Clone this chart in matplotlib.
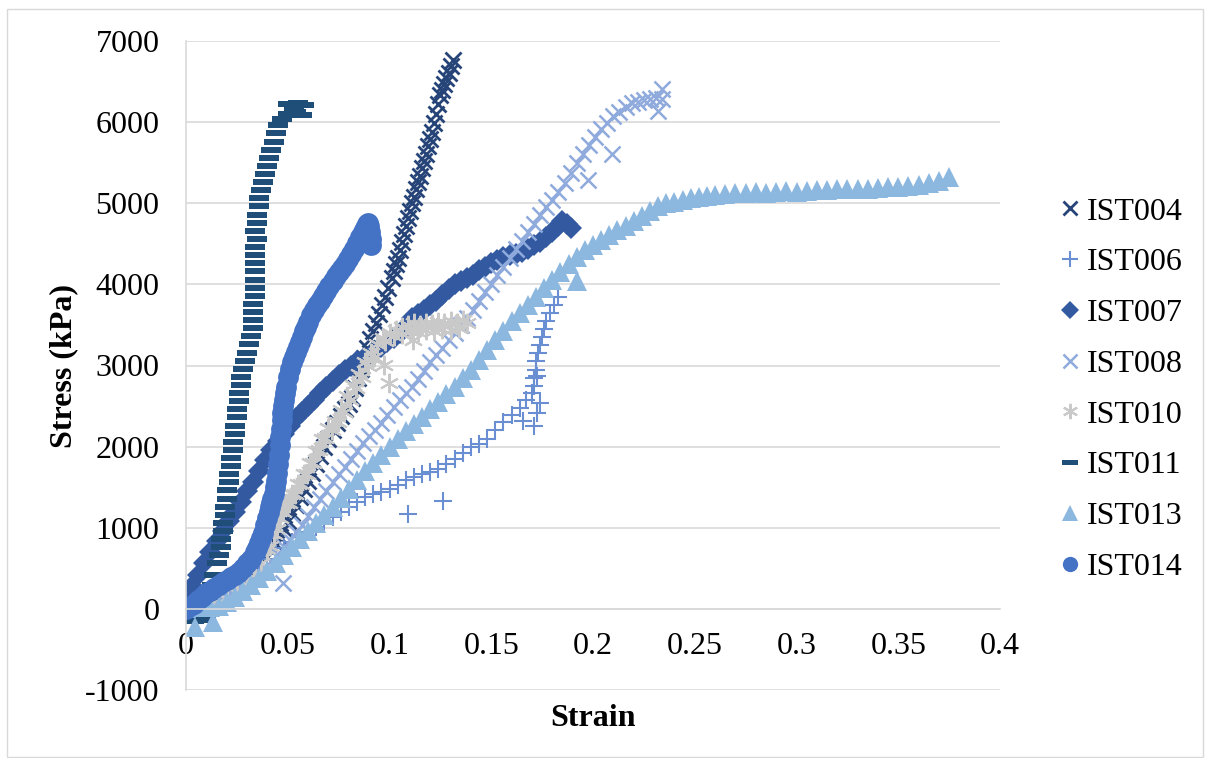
import matplotlib
matplotlib.use("Agg")
import matplotlib.pyplot as plt
from matplotlib.patches import Rectangle

plt.rcParams['font.family'] = ['Liberation Serif', 'DejaVu Serif']
plt.rcParams['axes.unicode_minus'] = False

# ---- test data (strain, stress in kPa) ----
ist004_strain = [0.000, 0.004, 0.008, 0.012, 0.016, 0.020, 0.024, 0.028, 0.031, 0.034,
                 0.037, 0.040, 0.042, 0.044, 0.046, 0.048, 0.050, 0.052, 0.054, 0.056,
                 0.058, 0.060, 0.062, 0.064, 0.066, 0.068, 0.070, 0.072, 0.074, 0.076,
                 0.078, 0.080, 0.0815, 0.083, 0.0845, 0.086, 0.0875, 0.089, 0.0905, 0.092,
                 0.0935, 0.095, 0.0965, 0.098, 0.0995, 0.101, 0.102, 0.103, 0.104, 0.105,
                 0.106, 0.107, 0.108, 0.109, 0.110, 0.111, 0.112, 0.113, 0.114, 0.115,
                 0.116, 0.117, 0.118, 0.119, 0.120, 0.121, 0.122, 0.123, 0.124, 0.125,
                 0.126, 0.127, 0.128, 0.129, 0.130, 0.131]
ist004_stress = [0, 20, 60, 100, 140, 180, 240, 310, 400, 480,
                 560, 640, 720, 800, 890, 980, 1080, 1180, 1280, 1380,
                 1480, 1580, 1680, 1790, 1890, 1990, 2100, 2200, 2290, 2380,
                 2460, 2530, 2600, 2720, 2840, 2960, 3090, 3220, 3330, 3430,
                 3520, 3640, 3740, 3850, 3960, 4080, 4160, 4250, 4330, 4420,
                 4520, 4620, 4720, 4820, 4910, 5000, 5080, 5170, 5260, 5340,
                 5430, 5520, 5610, 5700, 5790, 5880, 5990, 6100, 6220, 6330,
                 6400, 6470, 6540, 6610, 6690, 6760]

ist006_strain = [0.000, 0.004, 0.008, 0.012, 0.016, 0.020, 0.024, 0.028, 0.032, 0.036,
                 0.040, 0.044, 0.048, 0.052, 0.056, 0.060, 0.064, 0.068, 0.072, 0.076,
                 0.080, 0.084, 0.088, 0.092, 0.096, 0.100, 0.104, 0.108, 0.112, 0.116,
                 0.120, 0.124, 0.128, 0.132, 0.136, 0.140, 0.144, 0.148, 0.152, 0.156,
                 0.160, 0.164, 0.167, 0.170, 0.171, 0.171, 0.172, 0.172, 0.173, 0.174,
                 0.175, 0.176, 0.177, 0.179, 0.181, 0.183,
                 0.1093, 0.1264, 0.1658, 0.1708, 0.1724, 0.174, 0.1724]
ist006_stress = [0, 40, 100, 150, 210, 280, 350, 420, 480, 540,
                 610, 680, 750, 820, 890, 950, 1010, 1070, 1130, 1190,
                 1250, 1320, 1380, 1410, 1440, 1480, 1530, 1590, 1630, 1660,
                 1690, 1730, 1790, 1850, 1920, 1990, 2030, 2100, 2200, 2300,
                 2390, 2480, 2570, 2660, 2750, 2850, 2950, 3050, 3150, 3250,
                 3350, 3450, 3550, 3650, 3750, 3850,
                 1166, 1330, 2314, 2253, 2417, 2539, 2867]

ist007_strain = [0.000, 0.003, 0.006, 0.009, 0.012, 0.015, 0.018, 0.021, 0.024, 0.027,
                 0.030, 0.033, 0.036, 0.039, 0.042, 0.045, 0.048, 0.051, 0.054, 0.057,
                 0.060, 0.063, 0.066, 0.069, 0.072, 0.075, 0.078, 0.081, 0.084, 0.087,
                 0.090, 0.093, 0.096, 0.099, 0.102, 0.105, 0.108, 0.111, 0.114, 0.117,
                 0.120, 0.123, 0.126, 0.129, 0.132, 0.135, 0.138, 0.141, 0.144, 0.147,
                 0.150, 0.153, 0.156, 0.159, 0.162, 0.165, 0.168, 0.171, 0.174, 0.177,
                 0.180, 0.183, 0.185, 0.187, 0.189]
ist007_stress = [150, 280, 420, 560, 700, 840, 960, 1080, 1200, 1320,
                 1450, 1570, 1700, 1840, 1960, 2070, 2160, 2260, 2350, 2430,
                 2500, 2580, 2660, 2740, 2810, 2880, 2950, 3000, 3050, 3080,
                 3110, 3170, 3230, 3290, 3340, 3400, 3470, 3580, 3640, 3690,
                 3740, 3800, 3870, 3940, 4000, 4040, 4080, 4120, 4180, 4220,
                 4260, 4300, 4340, 4360, 4380, 4400, 4440, 4480, 4520, 4580,
                 4650, 4720, 4780, 4750, 4690]

ist008_strain = [0.000, 0.003, 0.006, 0.009, 0.012, 0.015, 0.018, 0.021, 0.024, 0.027,
                 0.030, 0.033, 0.036, 0.039, 0.042, 0.045, 0.048, 0.051, 0.054, 0.057,
                 0.060, 0.063, 0.066, 0.069, 0.072, 0.075, 0.078, 0.081, 0.084, 0.087,
                 0.090, 0.093, 0.096, 0.099, 0.102, 0.105, 0.108, 0.111, 0.114, 0.117,
                 0.120, 0.123, 0.126, 0.129, 0.132, 0.135, 0.138, 0.141, 0.144, 0.147,
                 0.150, 0.153, 0.156, 0.159, 0.162, 0.165, 0.168, 0.171, 0.174, 0.177,
                 0.180, 0.183, 0.186, 0.189, 0.192, 0.195, 0.198, 0.201, 0.204, 0.207,
                 0.210, 0.213, 0.216, 0.219, 0.222, 0.225, 0.228, 0.231, 0.234,
                 0.0477, 0.1977, 0.2092, 0.232, 0.2337]
ist008_stress = [0, 15, 30, 50, 80, 110, 150, 180, 230, 280,
                 330, 390, 450, 520, 590, 670, 760, 850, 950, 1040,
                 1140, 1250, 1350, 1450, 1560, 1660, 1750, 1850, 1950, 2040,
                 2130, 2210, 2290, 2390, 2490, 2580, 2660, 2730, 2830, 2930,
                 3040, 3130, 3220, 3310, 3400, 3500, 3590, 3680, 3790, 3900,
                 4010, 4110, 4220, 4330, 4440, 4540, 4650, 4750, 4850, 4950,
                 5040, 5140, 5250, 5370, 5490, 5610, 5720, 5820, 5910, 5990,
                 6070, 6130, 6190, 6230, 6250, 6270, 6290, 6300, 6290,
                 320, 5284, 5611, 6143, 6409]

ist010_strain = [0.000, 0.005, 0.010, 0.015, 0.020, 0.025, 0.030, 0.034, 0.037, 0.040,
                 0.043, 0.046, 0.049, 0.052, 0.055, 0.058, 0.061, 0.064, 0.067, 0.070,
                 0.073, 0.076, 0.079, 0.082, 0.085, 0.088, 0.091, 0.094, 0.097, 0.100,
                 0.103, 0.106, 0.109, 0.112, 0.115, 0.118, 0.121, 0.124, 0.127, 0.130,
                 0.133, 0.136, 0.138,
                 0.0415, 0.0445, 0.0475, 0.0505, 0.0535, 0.0565, 0.0595, 0.0625, 0.0655,
                 0.0685, 0.0715, 0.0745, 0.0775, 0.0805, 0.0835, 0.0865, 0.0895, 0.0925,
                 0.098, 0.102, 0.106, 0.110, 0.114, 0.118, 0.122, 0.126, 0.130, 0.134,
                 0.0971, 0.0996, 0.1115]
ist010_stress = [0, 10, 30, 70, 120, 200, 300, 430, 560, 740,
                 920, 1120, 1300, 1420, 1540, 1660, 1800, 1950, 2100, 2230,
                 2320, 2450, 2620, 2760, 2900, 3040, 3160, 3260, 3340, 3400,
                 3440, 3480, 3500, 3520, 3500, 3530, 3510, 3540, 3520, 3550,
                 3530, 3560, 3520,
                 780, 990, 1190, 1300, 1410, 1540, 1660, 1800, 1960,
                 2110, 2200, 2300, 2430, 2580, 2720, 2860, 2990, 3110,
                 3300, 3360, 3390, 3420, 3410, 3440, 3430, 3450, 3440, 3460,
                 3010, 2785, 3310]

ist011_strain = [0.000, 0.002, 0.004, 0.006, 0.008, 0.010, 0.012, 0.013, 0.014, 0.015,
                 0.016, 0.017, 0.017, 0.018, 0.018, 0.019, 0.019, 0.020, 0.020, 0.021,
                 0.021, 0.022, 0.022, 0.023, 0.023, 0.024, 0.024, 0.025, 0.025, 0.026,
                 0.026, 0.027, 0.027, 0.028, 0.029, 0.030, 0.031, 0.032, 0.033, 0.033,
                 0.033, 0.033, 0.034, 0.034, 0.034, 0.034, 0.034, 0.034, 0.034, 0.035,
                 0.034, 0.035, 0.035, 0.036, 0.036, 0.037, 0.038, 0.039, 0.040, 0.041,
                 0.042, 0.043, 0.044, 0.045, 0.047, 0.050, 0.054, 0.057, 0.053, 0.050,
                 0.055, 0.058]
ist011_stress = [-100, -140, -150, -120, -140, -90, 150, 300, 420, 560,
                 660, 760, 860, 960, 1060, 1160, 1260, 1360, 1460, 1560,
                 1660, 1760, 1860, 1960, 2060, 2160, 2260, 2360, 2460, 2560,
                 2660, 2760, 2860, 2960, 3060, 3160, 3260, 3360, 3460, 3560,
                 3660, 3760, 3860, 3960, 4060, 4160, 4260, 4360, 4460, 4560,
                 4660, 4760, 4860, 4960, 5060, 5160, 5260, 5360, 5460, 5560,
                 5660, 5760, 5860, 5960, 6040, 6100, 6120, 6090, 6180, 6220,
                 6230, 6210]

ist013_strain = [0.000, 0.004, 0.008, 0.012, 0.016, 0.020, 0.024, 0.028, 0.032, 0.036,
                 0.040, 0.044, 0.048, 0.052, 0.056, 0.060, 0.064, 0.068, 0.072, 0.076,
                 0.080, 0.084, 0.088, 0.092, 0.096, 0.100, 0.104, 0.108, 0.112, 0.116,
                 0.120, 0.124, 0.128, 0.132, 0.136, 0.140, 0.144, 0.148, 0.152, 0.156,
                 0.160, 0.164, 0.168, 0.172, 0.176, 0.180, 0.184, 0.188, 0.192, 0.196,
                 0.200, 0.204, 0.208, 0.212, 0.216, 0.220, 0.224, 0.228, 0.232, 0.236,
                 0.240, 0.244, 0.248, 0.252, 0.256, 0.260, 0.265, 0.270, 0.275, 0.280,
                 0.285, 0.290, 0.295, 0.300, 0.305, 0.310, 0.315, 0.320, 0.325, 0.330,
                 0.335, 0.340, 0.345, 0.350, 0.355, 0.360, 0.365, 0.370, 0.375,
                 0.0044, 0.0134, 0.192]
ist013_stress = [10, 20, 30, 20, 40, 90, 150, 220, 290, 380,
                 470, 560, 660, 760, 860, 960, 1060, 1160, 1260, 1370,
                 1480, 1590, 1700, 1800, 1900, 2000, 2100, 2190, 2280, 2370,
                 2460, 2550, 2650, 2740, 2840, 2950, 3070, 3190, 3310, 3430,
                 3550, 3650, 3750, 3850, 3950, 4050, 4150, 4250, 4340, 4420,
                 4480, 4550, 4610, 4670, 4720, 4780, 4840, 4910, 4970, 5000,
                 5020, 5040, 5070, 5080, 5090, 5100, 5120, 5130, 5130, 5140,
                 5130, 5140, 5150, 5140, 5150, 5160, 5160, 5170, 5170, 5180,
                 5180, 5190, 5200, 5200, 5210, 5230, 5250, 5270, 5320,
                 -225, -164, 4036]

ist014_strain = [0.000, 0.002, 0.004, 0.006, 0.008, 0.010, 0.012, 0.014, 0.016, 0.018,
                 0.020, 0.022, 0.024, 0.026, 0.028, 0.030, 0.032, 0.034, 0.035, 0.036,
                 0.037, 0.038, 0.039, 0.040, 0.041, 0.0415, 0.042, 0.0425, 0.043, 0.0435,
                 0.044, 0.0445, 0.045, 0.0455, 0.046, 0.0463, 0.0466, 0.047, 0.0473, 0.0477,
                 0.048, 0.0485, 0.049, 0.050, 0.051, 0.052, 0.053, 0.054, 0.055, 0.056,
                 0.057, 0.058, 0.059, 0.060, 0.0615, 0.063, 0.0645, 0.066, 0.0675, 0.069,
                 0.0705, 0.072, 0.0735, 0.075, 0.0765, 0.078, 0.0795, 0.081, 0.0825, 0.084,
                 0.0855, 0.087, 0.088, 0.089, 0.0895, 0.090, 0.0905, 0.091, 0.091]
ist014_stress = [0, 30, 60, 110, 150, 190, 220, 260, 295, 330,
                 360, 390, 420, 460, 510, 560, 620, 700, 750, 810,
                 870, 940, 1030, 1120, 1200, 1250, 1300, 1360, 1420, 1500,
                 1580, 1680, 1780, 1900, 2020, 2120, 2220, 2330, 2420, 2500,
                 2580, 2660, 2740, 2860, 2960, 3040, 3110, 3170, 3230, 3290,
                 3350, 3420, 3480, 3540, 3620, 3690, 3740, 3800, 3860, 3920,
                 3980, 4040, 4100, 4150, 4200, 4250, 4310, 4380, 4440, 4510,
                 4580, 4650, 4700, 4740, 4760, 4720, 4640, 4560, 4480]

labels = ['IST004', 'IST006', 'IST007', 'IST008', 'IST010', 'IST011', 'IST013', 'IST014']
xticks = [0, 0.05, 0.1, 0.15, 0.2, 0.25, 0.3, 0.35, 0.4]
xtick_labels = ['0', '0.05', '0.1', '0.15', '0.2', '0.25', '0.3', '0.35', '0.4']
yticks = [-1000, 0, 1000, 2000, 3000, 4000, 5000, 6000, 7000]

# horizontal bar marker for IST011
dash = [(-1, -0.3), (1, -0.3), (1, 0.3), (-1, 0.3), (-1, -0.3)]

# plot style, legend marker size
series = [
    (ist004_strain, ist004_stress, dict(marker='x', color='#264478', ms=12, mew=2.0), 10),
    (ist006_strain, ist006_stress, dict(marker='+', color='#6A8ED2', ms=13, mew=1.5), 12),
    (ist007_strain, ist007_stress, dict(marker='D', color='#335AA1', ms=11.5, mew=0), 9),
    (ist008_strain, ist008_stress, dict(marker='x', color='#8FAADC', ms=12, mew=1.8), 10),
    (ist010_strain, ist010_stress, dict(marker=(6, 2, 0), color='#C9C9C9', ms=14, mew=1.5), 11),
    (ist011_strain, ist011_stress, dict(marker=dash, color='#1F4E79', ms=15, mew=0), 12),
    (ist013_strain, ist013_stress, dict(marker='^', color='#8CB8E0', ms=15, mew=0), 11),
    (ist014_strain, ist014_stress, dict(marker='o', color='#4472C4', ms=15, mew=0), 11),
]

fig = plt.figure(figsize=(12.05, 7.58), dpi=100)
ax = fig.add_axes([186 / 1205, 1 - 690 / 758, 814 / 1205, 649 / 758])

for (sx, sy, style, _), name in zip(series, labels):
    ax.plot(sx, sy, linestyle='none', label=name, **style)

ax.set_xlim(0, 0.4)
ax.set_ylim(-1000, 7000)
ax.set_xticks(xticks)
ax.set_xticklabels(xtick_labels)
ax.set_yticks(yticks)
ax.tick_params(length=0, labelsize=23)
ax.tick_params(axis='x', pad=17)
ax.tick_params(axis='y', pad=19)

ax.grid(axis='y', color='#D9D9D9', linewidth=1.2)
ax.set_axisbelow(True)
for side in ['top', 'right']:
    ax.spines[side].set_visible(False)
ax.spines['left'].set_color('#D9D9D9')
ax.spines['left'].set_linewidth(1.2)
ax.spines['bottom'].set_position(('data', 0))
ax.spines['bottom'].set_color('#D9D9D9')
ax.spines['bottom'].set_linewidth(1.2)

ax.set_xlabel('Strain', fontsize=23, fontweight='bold')
ax.xaxis.set_label_coords(0.5, -0.022)
ax.xaxis.label.set_va('top')
ax.set_ylabel('Stress (kPa)', fontsize=23, fontweight='bold')
ax.yaxis.set_label_coords(-0.133, 0.5)

leg = ax.legend(loc='center left', bbox_to_anchor=(1.054, 0.463), frameon=False,
                fontsize=23, handlelength=0.8, handletextpad=0.15,
                labelspacing=0.67, borderaxespad=0)
for h, (_, _, _, legend_ms) in zip(leg.legend_handles, series):
    h.set_markersize(legend_ms)

fig.patches.append(Rectangle((7 / 1205, 1 / 758), 1196 / 1205, 748 / 758,
                             transform=fig.transFigure, fill=False,
                             edgecolor='#D9D9D9', linewidth=1))

fig.savefig('out.png', dpi=100)
